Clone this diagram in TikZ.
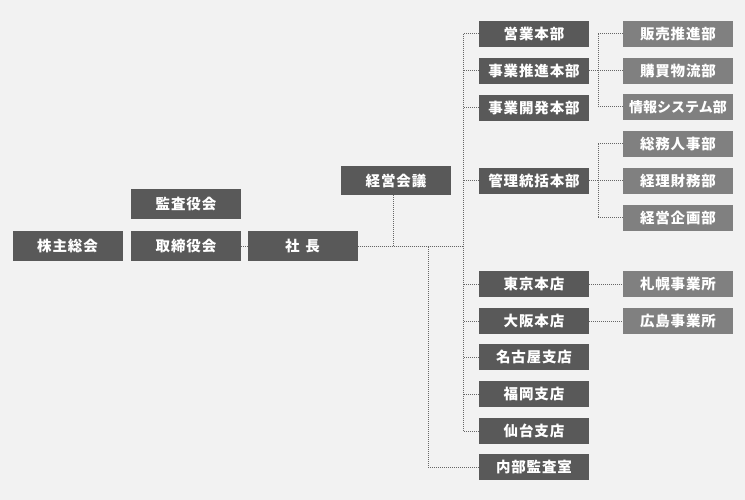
\documentclass[tikz,border=0pt]{standalone}
\usepackage{fontspec}
\setmainfont{Noto Sans CJK JP}
\usepackage{tikz}
\usetikzlibrary{positioning, calc}

\definecolor{boxdark}{HTML}{595959}
\definecolor{boxlight}{HTML}{808080}
\definecolor{dotline}{HTML}{666666}
\definecolor{paper}{HTML}{F2F2F2}

\begin{document}
\begin{tikzpicture}[x=1pt, y=-1pt,
  unit/.style={fill=boxdark, text=white, inner sep=0pt, minimum width=110pt, minimum height=26pt, font=\fontsize{14.5}{14.5}\selectfont\bfseries\addfontfeature{LetterSpace=6}},
  dept/.style={unit, fill=boxlight},
  board/.style={unit, minimum height=30pt},
  narrow/.style={font=\fontsize{14}{14}\selectfont\bfseries},
  conn/.style={draw=dotline, densely dotted, line width=1pt},
]
  \fill[paper] (0,0) rectangle (745,500);
  \useasboundingbox (0,0) rectangle (745,500);

  % top level
  \node[board] (sokai)  at (67.5,246)  {株主総会};
  \node[board] (kansa)  at (186,204.5) {監査役会};
  \node[board] (tori)   at (186,246)   {取締役会};
  \node[board] (shacho) at (302.5,246) {社\hspace{6pt}長};
  \node[board, minimum height=29pt] (keiei) at (396,180.5) {経営会議};

  % divisions and branches
  \node[unit] (eigyo)    at (534,34)  {営業本部};
  \node[unit] (suishin)  at (534,71)  {事業推進本部};
  \node[unit] (kaihatsu) at (534,108) {事業開発本部};
  \node[unit] (kanri)    at (534,181) {管理統括本部};
  \node[unit] (tokyo)    at (534,284) {東京本店};
  \node[unit] (osaka)    at (534,321) {大阪本店};
  \node[unit] (nagoya)   at (534,357) {名古屋支店};
  \node[unit] (fukuoka)  at (534,394) {福岡支店};
  \node[unit] (sendai)   at (534,431) {仙台支店};
  \node[unit] (naibu)    at (534,467) {内部監査室};

  % departments and offices
  \node[dept] (hanbai)    at (678,34)  {販売推進部};
  \node[dept] (kobai)     at (678,71)  {購買物流部};
  \node[dept, narrow] (joho) at (678,107) {情報システム部};
  \node[dept] (somu)      at (678,144) {総務人事部};
  \node[dept] (keiri)     at (678,181) {経理財務部};
  \node[dept] (kikaku)    at (678,218) {経営企画部};
  \node[dept] (sapporo)   at (678,284) {札幌事業所};
  \node[dept] (hiroshima) at (678,321) {広島事業所};

  \coordinate (trunk) at (463,246);
  \coordinate (audit) at (428,246);
  \coordinate (br) at (598,0);

  \path[conn]
    (tori) -- (shacho)
    (shacho.east) -- (trunk)
    ([xshift=-3pt]keiei.south) -- ([xshift=-3pt]keiei.south |- shacho.east)
    (naibu.west) -| (audit)
    (eigyo.west -| trunk) -- (sendai.west -| trunk)
    (suishin.east) -- (suishin.east -| br)
    (hanbai.west -| br) -- (joho.west -| br)
    (kanri.east) -- (kanri.east -| br)
    (somu.west -| br) -- (kikaku.west -| br)
    (tokyo) -- (sapporo)
    (osaka) -- (hiroshima);

  \foreach \n in {eigyo, suishin, kaihatsu, kanri, tokyo, osaka, nagoya, fukuoka, sendai}
    \draw[conn] (\n.west) -- (\n.west -| trunk);
  \foreach \n in {hanbai, kobai, joho, somu, keiri, kikaku}
    \draw[conn] (\n.west) -- (\n.west -| br);
\end{tikzpicture}
\end{document}
